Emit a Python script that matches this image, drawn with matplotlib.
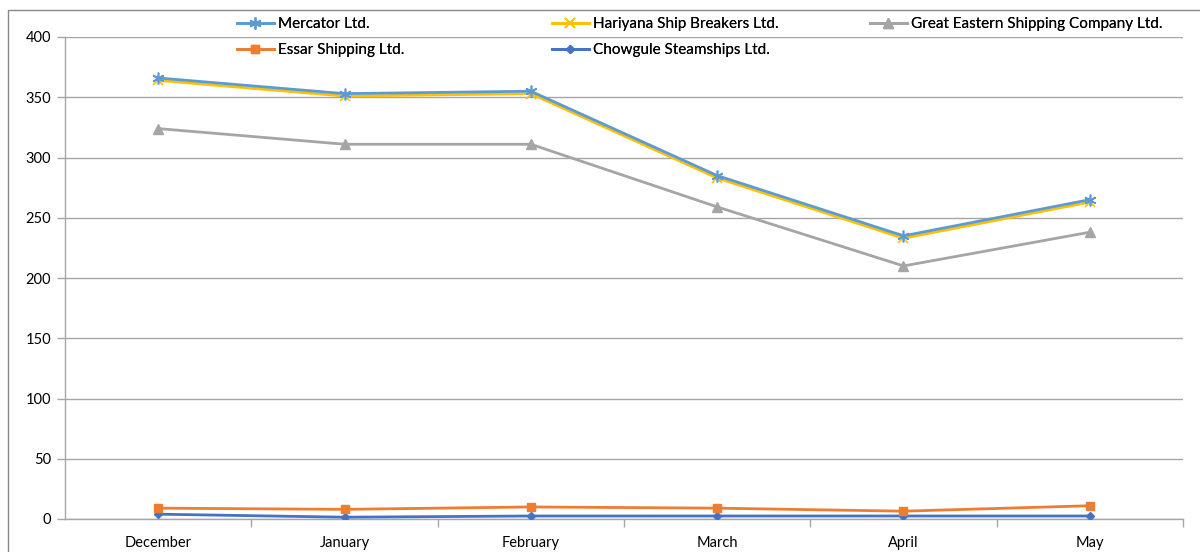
import matplotlib
matplotlib.use('Agg')
import matplotlib.pyplot as plt
import numpy as np
from matplotlib.patches import Rectangle

months = ['December', 'January', 'February', 'March', 'April', 'May']

mercator = [366, 353, 355, 285, 235, 265]
hariyana = [364, 351, 353, 283, 233, 263]
great_eastern = [324, 311, 311, 259, 210, 238]
essar = [9, 8, 10, 9, 6.5, 11]
chowgule = [4, 1.5, 2.5, 2.5, 2.5, 2.5]

plt.rcParams['font.family'] = ['Lato', 'DejaVu Sans']

fig = plt.figure(figsize=(12, 5.52), dpi=100)
ax = fig.add_axes([65 / 1200, 33 / 552, (1183 - 65) / 1200, (519 - 37) / 552])

x = np.arange(len(months))
grey = '#a6a6a6'

l_chow, = ax.plot(x, chowgule, color='#4472C4', marker='D', markersize=4.5, lw=2, zorder=3,
                  label='Chowgule Steamships Ltd.')
l_essar, = ax.plot(x, essar, color='#ED7D31', marker='s', markersize=6, lw=2, zorder=3,
                   label='Essar Shipping Ltd.')
l_ge, = ax.plot(x, great_eastern, color='#A5A5A5', marker='^', markersize=7, lw=2, zorder=3,
                label='Great Eastern Shipping Company Ltd.')
l_har, = ax.plot(x, hariyana, color='#FFC000', marker='x', markersize=7, mew=1.2, lw=2, zorder=3,
                 label='Hariyana Ship Breakers Ltd.')
l_merc, = ax.plot(x, mercator, color='#5B9BD5', marker=(6, 2, 0), markersize=8.5, mew=1.2, lw=2,
                  zorder=4, label='Mercator Ltd.')

ax.set_xlim(-0.5, len(months) - 0.5)
ax.set_ylim(0, 400)
ax.set_yticks(np.arange(0, 401, 50))
ax.set_xticks(x)
ax.set_xticklabels(months)
ax.set_xticks(np.arange(0.5, len(months) - 0.4, 1), minor=True)
ax.tick_params(axis='x', which='major', length=0, pad=12, labelsize=10.5)
ax.tick_params(axis='x', which='minor', length=6, color=grey, width=1)
ax.tick_params(axis='y', length=6, color=grey, width=1, pad=4, labelsize=10.5)

ax.yaxis.grid(True, color=grey, lw=1)
ax.set_axisbelow(True)
for s in ['top', 'right']:
    ax.spines[s].set_visible(False)
for s in ['left', 'bottom']:
    ax.spines[s].set_color(grey)
    ax.spines[s].set_linewidth(1)

# legend, three fixed-width columns like Excel
cols = [([l_merc, l_essar], 237), ([l_har, l_chow], 552), ([l_ge], 870)]
for handles, px in cols:
    leg = fig.legend(handles=handles, loc='upper left', bbox_to_anchor=(px / 1200, 1 - 17 / 552),
                     frameon=False, fontsize=11, handlelength=2.4, handletextpad=0.3,
                     labelspacing=0.8, borderpad=0, borderaxespad=0)
    fig.add_artist(leg)

fig.add_artist(Rectangle((8 / 1200, -0.01), 1.2, 1 - 10 / 552 + 0.01, transform=fig.transFigure,
                         fill=False, edgecolor='#888888', lw=1))

fig.savefig('out.png', dpi=100)
